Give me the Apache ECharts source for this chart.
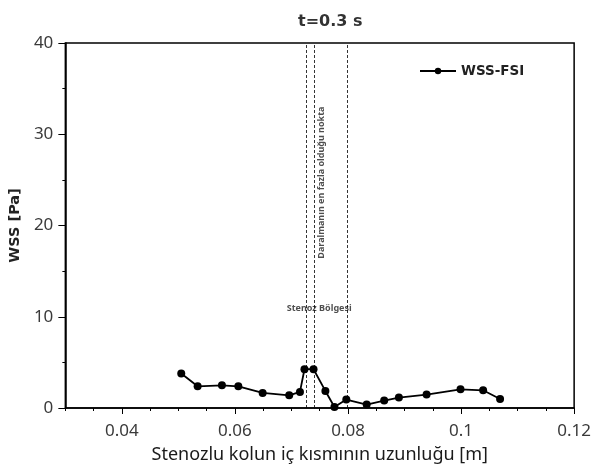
<!DOCTYPE html>
<html><head><meta charset="utf-8">
<script src="https://cdn.jsdelivr.net/npm/echarts@6/dist/echarts.min.js"></script>
<style>html,body{margin:0;padding:0;background:#fff}#c{width:594px;height:470px}</style>
</head><body><div id="c"></div>
<script>
const xValues = [0.0505,0.0534,0.0577,0.0606,0.0649,0.0696,0.0715,0.0723,0.0739,0.0760,0.0776,0.0797,0.0833,0.0864,0.0890,0.0939,0.0999,0.1039,0.1069];
const wssValues = [3.78,2.38,2.49,2.38,1.65,1.39,1.76,4.25,4.25,1.87,0.11,0.93,0.37,0.81,1.14,1.47,2.05,1.94,0.99];
const xTickLabels = [0.04,0.06,0.08,0.1,0.12];
const xMinorTicks = [0.03,0.035,0.04,0.045,0.05,0.055,0.06,0.065,0.07,0.075,0.08,0.085,0.09,0.095,0.1,0.105,0.11,0.115,0.12];
const dashedLines = [0.0726,0.0741,0.0798];
const annotations = [
  {name:'Daralmanın en fazla olduğu nokta', x:0.0753, y:24.7, rotate:90},
  {name:'Stenoz Bölgesi', x:0.0749, y:10.9, rotate:0}
];
const font = 'Noto Sans';
const boldFont = 'DejaVu Sans';
const chart = echarts.init(document.getElementById('c'));
chart.setOption({
  animation:false,
  backgroundColor:'#fff',
  title:{text:'t=0.3 s',left:293,top:9,textStyle:{fontFamily:boldFont,fontSize:16,fontWeight:'bold',color:'#333'}},
  grid:{left:63,right:17,top:43,bottom:62,show:true,borderColor:'#000',borderWidth:1.5,backgroundColor:'transparent'},
  legend:{data:[{name:'WSS-FSI'}],left:414,top:59,itemWidth:36,itemHeight:8,itemGap:10,
    textStyle:{fontFamily:boldFont,fontSize:13.5,fontWeight:'bold',color:'#222'}},
  xAxis:[{
    type:'value',min:0.03,max:0.12,
    name:'Stenozlu kolun iç kısmının uzunluğu [m]',nameLocation:'middle',nameGap:38,
    nameTextStyle:{fontFamily:font,fontSize:18,color:'#1a1a1a'},
    axisLine:{show:true,lineStyle:{color:'#000',width:1.5}},
    axisTick:{show:true,length:6,customValues:xTickLabels,lineStyle:{color:'#000',width:1}},
    axisLabel:{customValues:xTickLabels,margin:15,fontFamily:font,fontSize:17,color:'#3a3a3a'},
    splitLine:{show:false}
  },{
    type:'value',min:0.03,max:0.12,position:'bottom',
    axisLine:{show:false},
    axisTick:{show:true,length:3,customValues:xMinorTicks,lineStyle:{color:'#000',width:1}},
    axisLabel:{show:false},splitLine:{show:false}
  }],
  yAxis:{
    type:'value',min:0,max:40,interval:10,
    name:'WSS [Pa]',nameLocation:'middle',nameGap:41,
    nameTextStyle:{fontFamily:boldFont,fontSize:14.5,fontWeight:'bold',color:'#222'},
    axisLine:{show:true,lineStyle:{color:'#000',width:1.5}},
    axisTick:{show:true,length:7,lineStyle:{color:'#000',width:1}},
    minorTick:{show:true,splitNumber:2,length:3,lineStyle:{color:'#000',width:1}},
    axisLabel:{margin:12,fontFamily:font,fontSize:17,color:'#3a3a3a'},
    splitLine:{show:false}
  },
  series:[{
    name:'WSS-FSI',type:'line',
    data:xValues.map((x,i)=>[x,wssValues[i]]),
    symbol:'circle',symbolSize:8,
    lineStyle:{color:'#000',width:1.8},
    itemStyle:{color:'#000'},
    markLine:{silent:true,symbol:'none',precision:5,label:{show:false},
      lineStyle:{color:'#000',width:0.8,type:[3,2]},
      data:dashedLines.map(v=>({xAxis:v}))}
  },{
    name:'ann',type:'scatter',symbolSize:0,silent:true,
    data:annotations.map(a=>({name:a.name,value:[a.x,a.y],
      label:{show:true,position:'inside',rotate:a.rotate,formatter:a.name,
        fontFamily:font,fontSize:9,fontWeight:'bold',color:'#222'}}))
  }]
});
</script></body></html>
